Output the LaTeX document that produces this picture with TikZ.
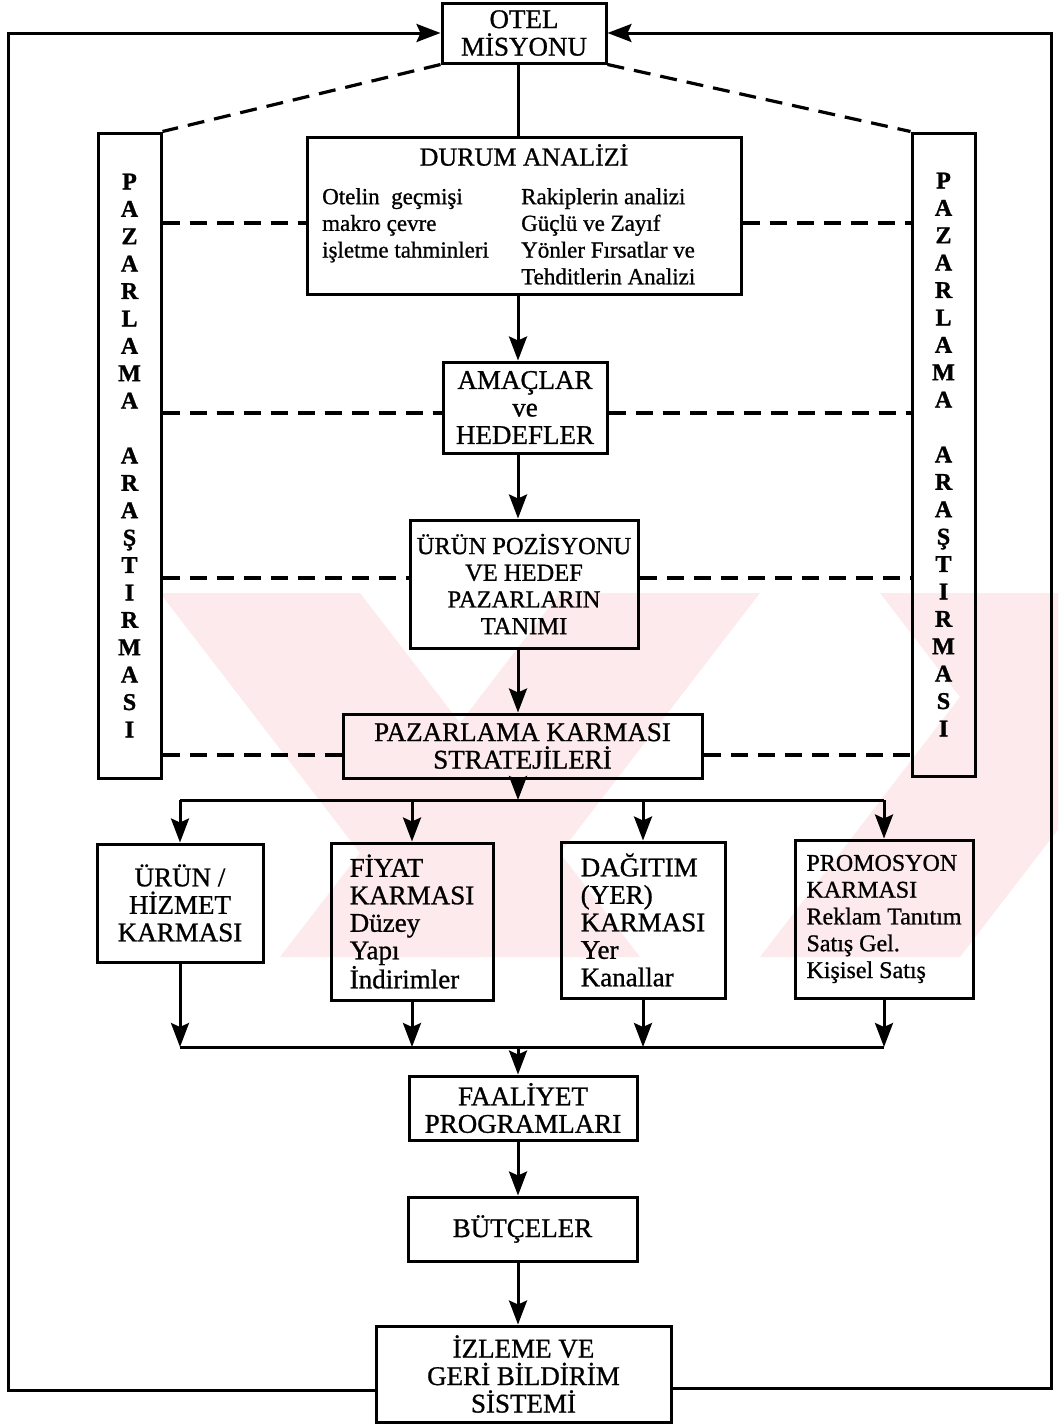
\documentclass[tikz,border=0pt]{standalone}
\usepackage{fontspec}
\setmainfont{Liberation Serif}[FakeBold=1.2]
\newfontfamily\heavyserif{Liberation Serif}[FakeBold=0.9]
\usetikzlibrary{arrows.meta,calc}
\newcommand\myfa{\heavyserif\fontsize{27}{27.5}\selectfont}
\newcommand\myfb{\heavyserif\fontsize{24.5}{26.7}\selectfont}
\newcommand\myfc{\heavyserif\fontsize{23}{26.7}\selectfont}
\newcommand\myfd{\heavyserif\fontsize{24}{26.8}\selectfont}
\newcommand\myside{\bfseries\fontsize{24}{27.4}\selectfont}
\definecolor{wmpink}{RGB}{252,234,236}
\tikzset{
  box/.style={draw, line width=3pt, inner sep=0pt, align=center, font=\myfa},
  ln/.style={line width=3pt},
  arr/.style={line width=3pt, -{Stealth[length=24pt,width=18pt,inset=4pt]}},
  dsh/.style={line width=3.2pt, dash pattern=on 17pt off 10pt},
  wm/.style={fill=wmpink, draw=none},
}
\begin{document}
\begin{tikzpicture}[x=1pt,y=-1pt]
\useasboundingbox (0,0) rectangle (1058,1424);
% faint watermark
\begin{scope}
\clip (0,593) rectangle (1058,957);
\fill[wm] (160,593) -- (360,593) -- (640,957) -- (440,957) -- cycle;
\fill[wm] (560,593) -- (760,593) -- (480,957) -- (280,957) -- cycle;
\fill[wm] (880,593) -- (1080,593) -- (1360,957) -- (1160,957) -- cycle;
\fill[wm] (1040,593) -- (1240,593) -- (960,957) -- (760,957) -- cycle;
\end{scope}

% boxes
\node[box, minimum width=164pt, minimum height=60pt] (otel) at (524,33) {OTEL\\MİSYONU};
\node[box, minimum width=434pt, minimum height=157pt] (durum) at (524,215.5) {};
\node[font=\heavyserif\fontsize{26}{27}\selectfont, inner sep=0pt] (durumT) at (524,155) {DURUM ANALİZİ};
\node[font=\myfc, align=left, anchor=north west, inner sep=0pt] (durumL) at (322,188)
  {Otelin\ \ geçmişi\\makro çevre\\işletme tahminleri};
\node[font=\myfc, align=left, anchor=north west, inner sep=0pt] (durumR) at (521,188)
  {Rakiplerin analizi\\Güçlü ve Zayıf\\Yönler Fırsatlar ve\\Tehditlerin Analizi};

\node[box, font=\myside, minimum width=63pt, minimum height=645pt] (lpaz) at (129.5,455.5)
  {P\\A\\Z\\A\\R\\L\\A\\M\\A\\[27.4pt]A\\R\\A\\Ş\\T\\I\\R\\M\\A\\S\\I};
\node[box, font=\myside, minimum width=63pt, minimum height=643pt] (rpaz) at (943.5,454.5)
  {P\\A\\Z\\A\\R\\L\\A\\M\\A\\[27.4pt]A\\R\\A\\Ş\\T\\I\\R\\M\\A\\S\\I};

\node[box, minimum width=164pt, minimum height=91pt] (amac) at (525,407.5) {AMAÇLAR\\ve\\HEDEFLER};
\node[box, font=\myfb, minimum width=228pt, minimum height=128pt] (urunpoz) at (524,584)
  {ÜRÜN POZİSYONU\\VE HEDEF\\PAZARLARIN\\TANIMI};
\node[box, minimum width=359pt, minimum height=64pt] (pk) at (522.5,746) {PAZARLAMA KARMASI\\STRATEJİLERİ};

\node[box, minimum width=166pt, minimum height=118pt] (urunh) at (180,903) {ÜRÜN /\\HİZMET\\KARMASI};
\node[box, align=left, minimum width=162pt, minimum height=157pt] (fiyat) at (412,921.5)
  {FİYAT\\KARMASI\\Düzey\\Yapı\\İndirimler};
\node[box, align=left, minimum width=164pt, minimum height=156pt] (dagitim) at (643,920)
  {DAĞITIM\\(YER)\\KARMASI\\Yer\\Kanallar};
\node[box, align=left, font=\myfd, minimum width=178pt, minimum height=158pt] (promo) at (884,919)
  {PROMOSYON\\KARMASI\\Reklam Tanıtım\\Satış Gel.\\Kişisel Satış};

\node[box, minimum width=228pt, minimum height=64pt] (faal) at (523,1108) {FAALİYET\\PROGRAMLARI};
\node[box, minimum width=229pt, minimum height=64pt] (butce) at (522.5,1229) {BÜTÇELER};
\node[box, minimum width=295pt, minimum height=96pt] (izleme) at (523.5,1374) {İZLEME VE\\GERİ BİLDİRİM\\SİSTEMİ};

% spine connectors
\coordinate (sp) at (518,0);
\draw[ln] (sp |- otel.south) -- (sp |- durum.north);
\draw[arr] (sp |- durum.south) -- (sp |- amac.north);
\draw[arr] (sp |- amac.south) -- (sp |- urunpoz.north);
\draw[arr] (sp |- urunpoz.south) -- (sp |- pk.north);

\coordinate (bt) at (518,800);
\draw[arr] (sp |- pk.south) -- (bt);
\draw[ln] (bt -| urunh.north) -- (bt -| promo.north);
\draw[arr] (bt -| urunh.north) -- (urunh.north);
\draw[arr] (bt -| fiyat.north) -- (fiyat.north);
\draw[arr] (bt -| dagitim.north) -- (dagitim.north);
\draw[arr] (bt -| promo.north) -- (promo.north);

\coordinate (bb) at (518,1047);
\draw[arr] (urunh.south) -- (bb -| urunh.south);
\draw[arr] (fiyat.south) -- (bb -| fiyat.south);
\draw[arr] (dagitim.south) -- (bb -| dagitim.south);
\draw[arr] (promo.south) -- (bb -| promo.south);
\draw[ln] (bb -| urunh.south) -- (bb -| promo.south);
\draw[arr] (bb) -- (sp |- faal.north);
\draw[arr] (sp |- faal.south) -- (sp |- butce.north);
\draw[arr] (sp |- butce.south) -- (sp |- izleme.north);

% feedback loops
\coordinate (fl) at (8,1390);
\coordinate (fr) at (1051,1388);
\draw[arr] (fl -| izleme.west) -- (fl) |- (otel.west);
\draw[arr] (fr -| izleme.east) -- (fr) |- (otel.east);

% dashed links
\draw[dsh] (otel.south west) -- (lpaz.north east);
\draw[dsh] (otel.south east) -- (rpaz.north west);
\coordinate (ya) at (0,223);
\coordinate (yb) at (0,413);
\coordinate (yc) at (0,578);
\coordinate (yd) at (0,755);
\draw[dsh] (lpaz.east |- ya) -- (durum.west |- ya);
\draw[dsh] (durum.east |- ya) -- (rpaz.west |- ya);
\draw[dsh] (lpaz.east |- yb) -- (amac.west |- yb);
\draw[dsh] (amac.east |- yb) -- (rpaz.west |- yb);
\draw[dsh] (lpaz.east |- yc) -- (urunpoz.west |- yc);
\draw[dsh] (urunpoz.east |- yc) -- (rpaz.west |- yc);
\draw[dsh] (lpaz.east |- yd) -- (pk.west |- yd);
\draw[dsh] (pk.east |- yd) -- (rpaz.west |- yd);
\end{tikzpicture}
\end{document}
